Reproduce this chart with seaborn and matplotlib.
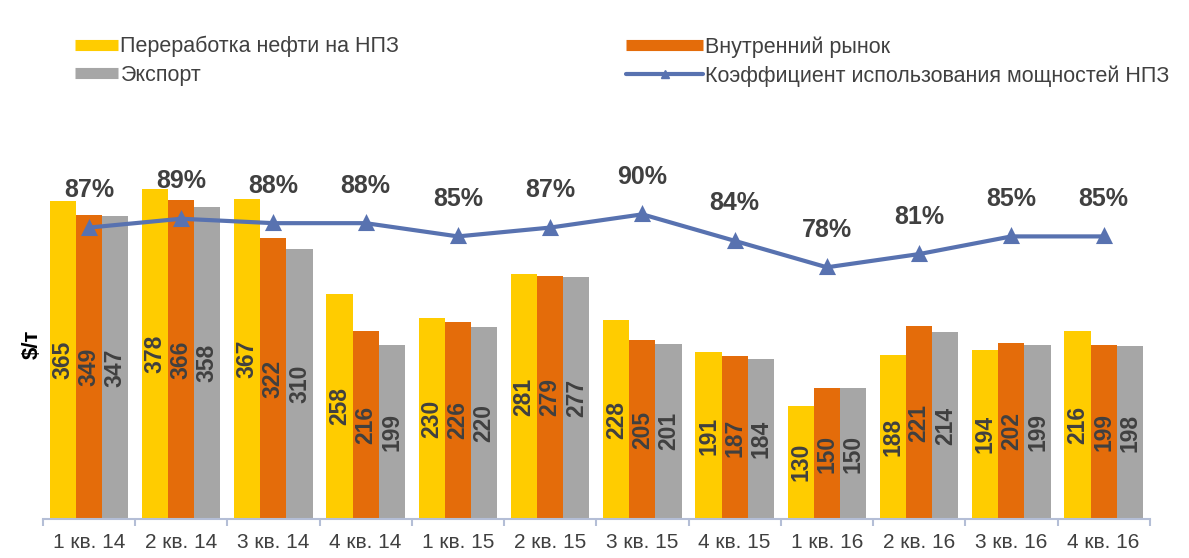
import numpy as np
import pandas as pd
import seaborn as sns
import matplotlib.pyplot as plt
from matplotlib.lines import Line2D

# Data
quarters = ["1 кв. 14", "2 кв. 14", "3 кв. 14", "4 кв. 14",
            "1 кв. 15", "2 кв. 15", "3 кв. 15", "4 кв. 15",
            "1 кв. 16", "2 кв. 16", "3 кв. 16", "4 кв. 16"]
refining = [365, 378, 367, 258, 230, 281, 228, 191, 130, 188, 194, 216]
domestic = [349, 366, 322, 216, 226, 279, 205, 187, 150, 221, 202, 199]
export = [347, 358, 310, 199, 220, 277, 201, 184, 150, 214, 199, 198]
utilization = [87, 89, 88, 88, 85, 87, 90, 84, 78, 81, 85, 85]

series_names = ["Переработка нефти на НПЗ", "Внутренний рынок", "Экспорт"]
line_name = "Коэффициент использования мощностей НПЗ"
colors = ["#FFCC00", "#E46C0A", "#A6A6A6"]
line_color = "#5872B0"
text_color = "#404040"

df = pd.DataFrame({
    "quarter": quarters * 3,
    "value": refining + domestic + export,
    "series": [series_names[0]] * 12 + [series_names[1]] * 12 + [series_names[2]] * 12,
})

sns.set_theme(style="white")
plt.rcParams['font.family'] = ['Liberation Sans', 'DejaVu Sans']

fig = plt.figure(figsize=(11.89, 5.58), dpi=100)
ax = fig.add_axes([0.036, 0.070, 0.931, 0.625])

sns.barplot(data=df, x="quarter", y="value", hue="series", palette=colors,
            width=0.85, saturation=1, linewidth=0, ax=ax, legend=False)
for cont in ax.containers:
    ax.bar_label(cont, label_type="center", rotation=90, fontsize=16.5,
                 fontweight="bold", color=text_color)

ax.set_ylim(0, 400)
ax.set_xlim(-0.5, 11.5)
ax.set_yticks([])
ax.set_xlabel("")
ax.set_ylabel("$/т", fontsize=16, fontweight="bold", color="black", labelpad=0)
for s in ["top", "right", "left"]:
    ax.spines[s].set_visible(False)
ax.spines["bottom"].set_color("#B4BED6")
ax.spines["bottom"].set_linewidth(1.5)
ax.set_xticks(np.arange(12))
ax.set_xticklabels(quarters, fontsize=15, color=text_color)
ax.tick_params(axis="x", length=0, pad=10)
ax.set_xticks(np.arange(-0.5, 12, 1), minor=True)
ax.tick_params(axis="x", which="minor", bottom=True, length=5, color="#B4BED6",
               width=1.5, direction="out")

# capacity utilisation on a hidden second axis
ax2 = ax.twinx()
sns.pointplot(x=quarters, y=utilization, color=line_color, marker="^",
              markersize=9, linewidth=3, ax=ax2)
ax2.set_ylim(21, 100)
ax2.set_xlim(-0.5, 11.5)
ax2.axis("off")
for i, v in enumerate(utilization):
    ax2.annotate(f"{v}%", (i, v), xytext=(0, 27), textcoords="offset points",
                 ha="center", va="center", fontsize=18, fontweight="bold",
                 color=text_color)

# legend in two columns at the top
h_ref = Line2D([], [], color=colors[0], lw=8, solid_capstyle="butt")
h_exp = Line2D([], [], color=colors[2], lw=8, solid_capstyle="butt")
h_dom = Line2D([], [], color=colors[1], lw=8, solid_capstyle="butt")
h_line = Line2D([], [], color=line_color, lw=3, marker="^", markersize=6)
fig.legend([h_ref, h_exp], [series_names[0], series_names[2]],
           loc="upper left", bbox_to_anchor=(0.047, 0.97), frameon=False,
           fontsize=15.5, handlelength=2.0, handletextpad=0.1,
           labelspacing=0.35, labelcolor=text_color)
fig.legend([h_dom, h_line], [series_names[1], line_name],
           loc="upper left", bbox_to_anchor=(0.51, 0.97), frameon=False,
           fontsize=15.5, handlelength=3.6, handletextpad=0.1,
           labelspacing=0.35, labelcolor=text_color)

fig.savefig("out.png", dpi=100)
